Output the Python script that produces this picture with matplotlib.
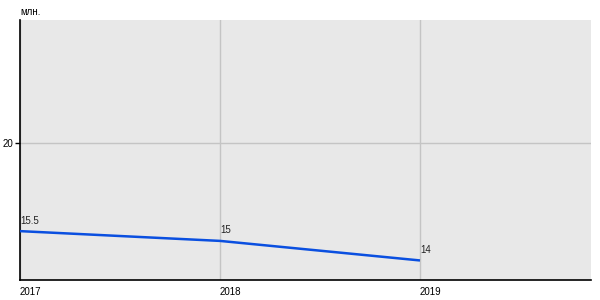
import matplotlib
matplotlib.use("Agg")
import matplotlib.pyplot as plt

years = [2017, 2018, 2019]
values = [15.5, 15.0, 14.0]
value_labels = ["15.5", "15", "14"]
y_ticks = [20]
unit_label = "млн."

plt.rcParams['font.family'] = ['Liberation Sans', 'DejaVu Sans']

fig = plt.figure(figsize=(6, 3), dpi=100)
ax = fig.add_axes([20/600, 20/300, 571/600, 260/300])
ax.set_facecolor('#e8e8e8')
ax.set_xlim(2017, 2019.855)
ax.set_ylim(13.0, 26.3)

ax.plot(years, values, color='#0a4fe0', lw=1.8, zorder=3, solid_capstyle='butt')
for x, y, t in zip(years, values, value_labels):
    ax.annotate(t, (x, y), xytext=(0, 4), textcoords='offset points',
                ha='left', va='bottom', fontsize=7, color='#222222')

ax.set_xticks(years)
ax.set_xticklabels([str(y) for y in years], ha='left')
ax.set_yticks(y_ticks)
ax.set_yticklabels([str(v) for v in y_ticks])
ax.grid(True, color='#c4c4c4', lw=1)
ax.set_axisbelow(True)
for s in ['top', 'right']:
    ax.spines[s].set_visible(False)
for s in ['left', 'bottom']:
    ax.spines[s].set_color('black')
    ax.spines[s].set_linewidth(1.2)
ax.tick_params(axis='x', length=0, labelsize=7, pad=5)
ax.tick_params(axis='y', length=3.5, width=1, labelsize=7, pad=1)
fig.text(20/600, 1 - 12/300, unit_label, ha='left', va='center', fontsize=7)

fig.savefig('out.png', dpi=100)
